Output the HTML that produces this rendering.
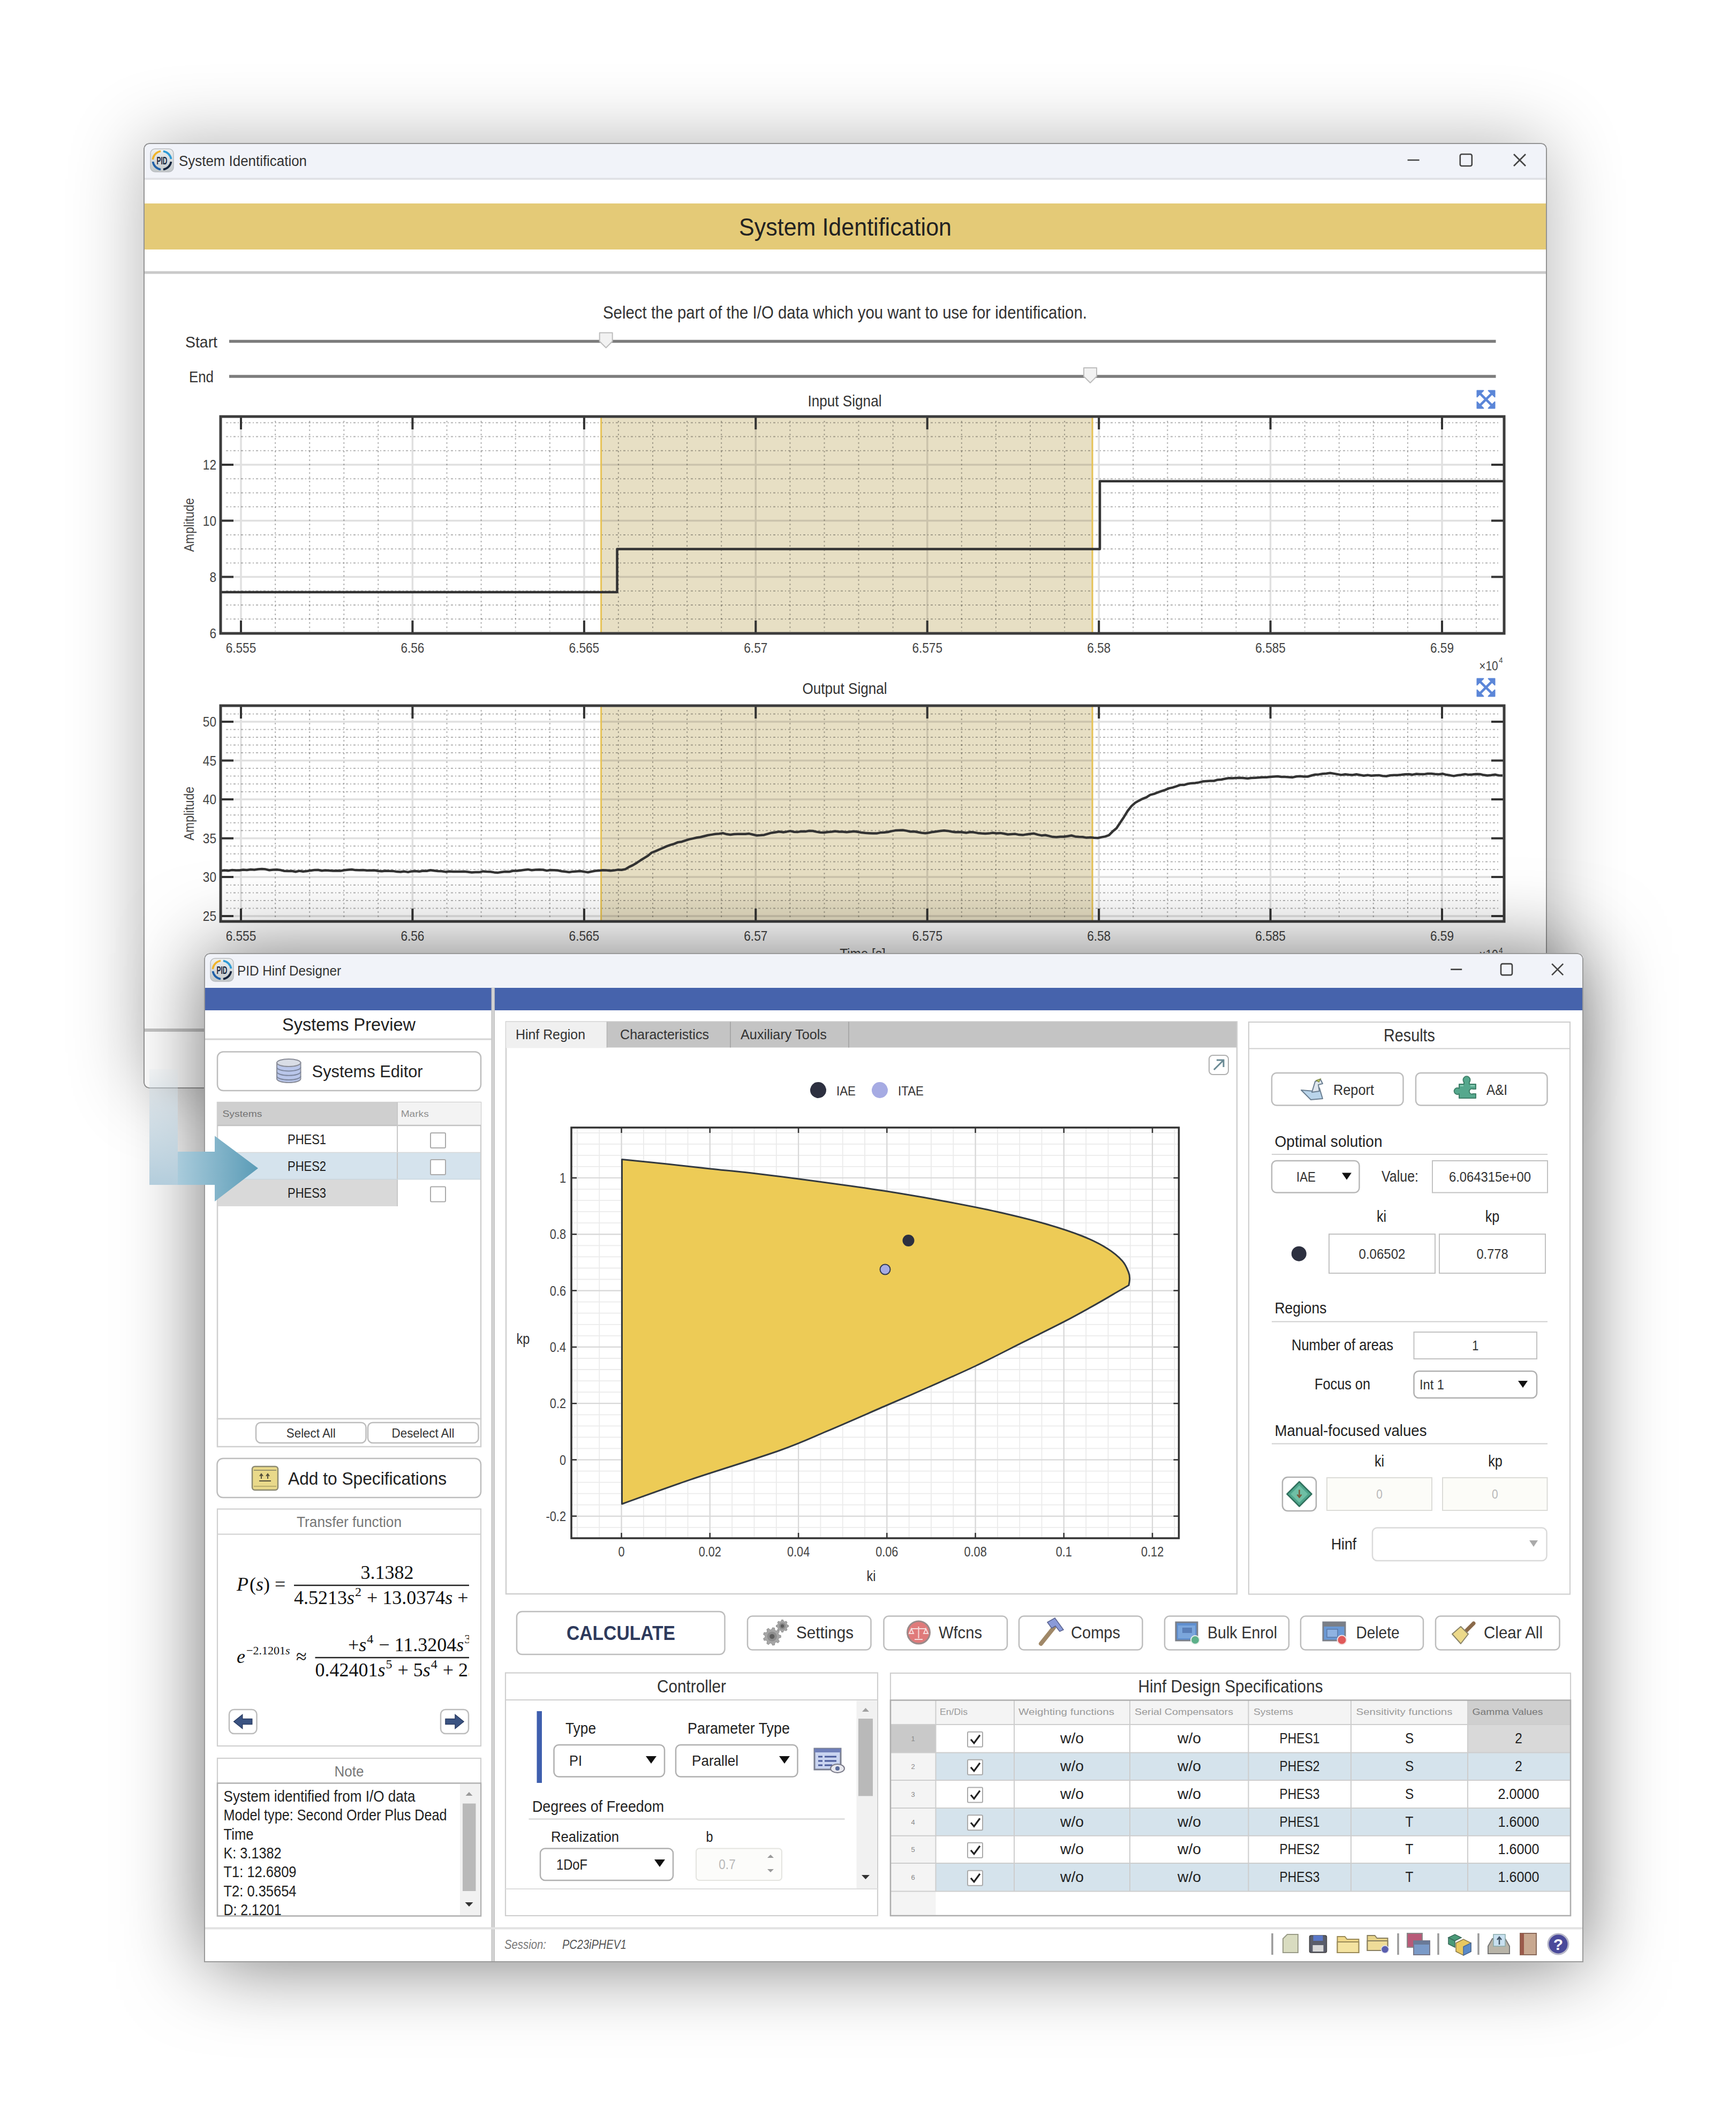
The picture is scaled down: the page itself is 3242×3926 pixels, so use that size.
<!DOCTYPE html><html><head><meta charset="utf-8"><title>PID Hinf Designer</title><style>html,body{margin:0;padding:0;background:#fff}
body{width:3242px;height:3926px;position:relative;overflow:hidden}
.win{position:absolute;border-radius:10px;overflow:hidden;background:#fff}
.sh{position:absolute;border-radius:10px}
svg{display:block}
text{white-space:pre}</style></head><body><svg width="0" height="0" style="position:absolute"><defs>
<linearGradient id="gIcon" x1="0" y1="0" x2="0" y2="1"><stop offset="0" stop-color="#eef0f0"/><stop offset="1" stop-color="#c2c7c9"/></linearGradient>
<linearGradient id="gArrV" x1="0" y1="0" x2="0" y2="1"><stop offset="0" stop-color="#cfdde6" stop-opacity="0.15"/><stop offset="0.35" stop-color="#cddbe4" stop-opacity="0.75"/><stop offset="1" stop-color="#b3cddc" stop-opacity="1"/></linearGradient>
<linearGradient id="gArrH" gradientUnits="userSpaceOnUse" x1="332" y1="0" x2="482" y2="0"><stop offset="0" stop-color="#a9cbdb"/><stop offset="1" stop-color="#5b9cb7"/></linearGradient>
<clipPath id="clipNote"><rect x="408" y="3332" width="450" height="245"/></clipPath>
<clipPath id="clipTF"><rect x="408" y="2868" width="468" height="320"/></clipPath>
</defs></svg><div class="sh" style="left:268px;top:267px;width:2621px;height:1766px;box-shadow:0 0 140px rgba(0,0,0,0.30);border-radius:10px"></div><div class="win" style="left:268px;top:267px;width:2621px;height:1766px;border-radius:10px"><svg width="2621" height="1766" viewBox="268 267 2621 1766"><rect x="268.0" y="267.0" width="2621.0" height="1766.0" fill="#fff" /><rect x="268.0" y="267.0" width="2621.0" height="67.0" fill="#f1f3f9" /><line x1="268.0" y1="334.0" x2="2889.0" y2="334.0" stroke="#dfe0e5" stroke-width="3.5" /><rect x="281.0" y="278.0" width="43" height="43" rx="8.6" fill="url(#gIcon)" stroke="#b9bcc0" stroke-width="1.5"/><path d="M285.4 298.0A17.2 17.2 0 0 1 300.1 282.5" fill="none" stroke="#f0b429" stroke-width="3.7"/><path d="M304.9 282.5A17.2 17.2 0 0 1 319.5 297.1" fill="none" stroke="#2f9bd6" stroke-width="3.7"/><path d="M319.5 301.9A17.2 17.2 0 0 1 304.9 316.5" fill="none" stroke="#14243d" stroke-width="3.7"/><path d="M300.1 316.5A17.2 17.2 0 0 1 285.5 301.9" fill="none" stroke="#1f5fa8" stroke-width="3.7"/><text x="302.5" y="306.8" font-size="19.78" fill="#14243d" font-family="'Liberation Sans',sans-serif" text-anchor="middle" font-weight="bold" textLength="19.8" lengthAdjust="spacingAndGlyphs" >PID</text><text x="334.0" y="310.0" font-size="27" fill="#333" font-family="'Liberation Sans',sans-serif" textLength="239.0" lengthAdjust="spacingAndGlyphs" >System Identification</text><line x1="2628.6" y1="299.0" x2="2650.6" y2="299.0" stroke="#444" stroke-width="2.6" /><rect x="2726.8" y="288.0" width="22.0" height="22.0" fill="none" stroke="#444" stroke-width="2.6" rx="3" /><line x1="2827.0" y1="288.0" x2="2849.0" y2="310.0" stroke="#444" stroke-width="2.6" /><line x1="2827.0" y1="310.0" x2="2849.0" y2="288.0" stroke="#444" stroke-width="2.6" /><rect x="268.0" y="380.0" width="2621.0" height="86.0" fill="#e4ca77" /><text x="1578.5" y="440.0" font-size="47" fill="#222" font-family="'Liberation Sans',sans-serif" text-anchor="middle" textLength="397.0" lengthAdjust="spacingAndGlyphs" >System Identification</text><rect x="268.0" y="506.5" width="2621.0" height="5.0" fill="#c9c9c9" /><text x="1578.0" y="594.5" font-size="33.5" fill="#333" font-family="'Liberation Sans',sans-serif" text-anchor="middle" textLength="904.0" lengthAdjust="spacingAndGlyphs" >Select the part of the I/O data which you want to use for identification.</text><text x="346.0" y="649.0" font-size="29" fill="#333" font-family="'Liberation Sans',sans-serif" textLength="60.0" lengthAdjust="spacingAndGlyphs" >Start</text><text x="353.0" y="714.0" font-size="29" fill="#333" font-family="'Liberation Sans',sans-serif" textLength="46.0" lengthAdjust="spacingAndGlyphs" >End</text><line x1="428.0" y1="637.5" x2="2793.5" y2="637.5" stroke="#7c7c7c" stroke-width="5.5" /><path d="M1119.7 621.5h24v16l-12 12l-12 -12z" fill="#f2f2f2" stroke="#bdbdbd" stroke-width="2" stroke-linejoin="round"/><line x1="428.0" y1="703.0" x2="2793.5" y2="703.0" stroke="#7c7c7c" stroke-width="5.5" /><path d="M2024 687.0h24v16l-12 12l-12 -12z" fill="#f2f2f2" stroke="#bdbdbd" stroke-width="2" stroke-linejoin="round"/><rect x="412.0" y="778.0" width="2397.0" height="405.0" fill="#fff" /><rect x="1122.6" y="778.0" width="917.4" height="405.0" fill="#e7dfc4" /><path d="M514.1 786V1179M578.2 786V1179M642.3 786V1179M706.3 786V1179M834.5 786V1179M898.6 786V1179M962.7 786V1179M1026.8 786V1179M1154.9 786V1179M1219.0 786V1179M1283.1 786V1179M1347.2 786V1179M1475.4 786V1179M1539.5 786V1179M1603.5 786V1179M1667.6 786V1179M1795.8 786V1179M1859.9 786V1179M1924.0 786V1179M1988.1 786V1179M2116.2 786V1179M2180.3 786V1179M2244.4 786V1179M2308.5 786V1179M2436.7 786V1179M2500.8 786V1179M2564.8 786V1179M2628.9 786V1179M2757.1 786V1179" fill="none" stroke="#000" stroke-width="2" stroke-dasharray="3 5" stroke-opacity="0.3"/><path d="M422 789.4H2801M422 815.6H2801M422 841.8H2801M422 894.2H2801M422 920.4H2801M422 946.6H2801M422 999.0H2801M422 1025.2H2801M422 1051.4H2801M422 1103.8H2801M422 1130.0H2801M422 1156.2H2801" fill="none" stroke="#000" stroke-width="2" stroke-dasharray="4 4 2 4" stroke-opacity="0.3"/><path d="M450.0 778V1183M770.4 778V1183M1090.9 778V1183M1411.3 778V1183M1731.7 778V1183M2052.2 778V1183M2372.6 778V1183M2693.0 778V1183M412 868.0H2809M412 972.5H2809M412 1077.5H2809" fill="none" stroke="#000" stroke-width="3.5" stroke-opacity="0.12"/><line x1="1122.6" y1="778.0" x2="1122.6" y2="1183.0" stroke="#e6c256" stroke-width="3" /><line x1="2040.0" y1="778.0" x2="2040.0" y2="1183.0" stroke="#e6c256" stroke-width="3" /><path d="M412 1106H1152.5V1025.5H2054V898.7H2809" fill="none" stroke="#333" stroke-width="4.5" stroke-linejoin="round"/><path d="M450.0 778v24M450.0 1183v-24M770.4 778v24M770.4 1183v-24M1090.9 778v24M1090.9 1183v-24M1411.3 778v24M1411.3 1183v-24M1731.7 778v24M1731.7 1183v-24M2052.2 778v24M2052.2 1183v-24M2372.6 778v24M2372.6 1183v-24M2693.0 778v24M2693.0 1183v-24M412 868.0h24M2809 868.0h-24M412 972.5h24M2809 972.5h-24M412 1077.5h24M2809 1077.5h-24" fill="none" stroke="#333" stroke-width="4" /><rect x="412.0" y="778.0" width="2397.0" height="405.0" fill="none" stroke="#3c3c3c" stroke-width="5" /><text x="404.0" y="877.0" font-size="26" fill="#444" font-family="'Liberation Sans',sans-serif" text-anchor="end" textLength="25.2" lengthAdjust="spacingAndGlyphs" >12</text><text x="404.0" y="981.5" font-size="26" fill="#444" font-family="'Liberation Sans',sans-serif" text-anchor="end" textLength="25.2" lengthAdjust="spacingAndGlyphs" >10</text><text transform="translate(404.0 1086.5) scale(0.870 1)" font-size="26" fill="#444" font-family="'Liberation Sans',sans-serif" text-anchor="end" >8</text><text x="450.0" y="1219.0" font-size="26" fill="#444" font-family="'Liberation Sans',sans-serif" text-anchor="middle" textLength="56.6" lengthAdjust="spacingAndGlyphs" >6.555</text><text x="770.4" y="1219.0" font-size="26" fill="#444" font-family="'Liberation Sans',sans-serif" text-anchor="middle" textLength="44.0" lengthAdjust="spacingAndGlyphs" >6.56</text><text x="1090.9" y="1219.0" font-size="26" fill="#444" font-family="'Liberation Sans',sans-serif" text-anchor="middle" textLength="56.6" lengthAdjust="spacingAndGlyphs" >6.565</text><text x="1411.3" y="1219.0" font-size="26" fill="#444" font-family="'Liberation Sans',sans-serif" text-anchor="middle" textLength="44.0" lengthAdjust="spacingAndGlyphs" >6.57</text><text x="1731.7" y="1219.0" font-size="26" fill="#444" font-family="'Liberation Sans',sans-serif" text-anchor="middle" textLength="56.6" lengthAdjust="spacingAndGlyphs" >6.575</text><text x="2052.2" y="1219.0" font-size="26" fill="#444" font-family="'Liberation Sans',sans-serif" text-anchor="middle" textLength="44.0" lengthAdjust="spacingAndGlyphs" >6.58</text><text x="2372.6" y="1219.0" font-size="26" fill="#444" font-family="'Liberation Sans',sans-serif" text-anchor="middle" textLength="56.6" lengthAdjust="spacingAndGlyphs" >6.585</text><text x="2693.0" y="1219.0" font-size="26" fill="#444" font-family="'Liberation Sans',sans-serif" text-anchor="middle" textLength="44.0" lengthAdjust="spacingAndGlyphs" >6.59</text><text x="1577.5" y="759.0" font-size="30" fill="#333" font-family="'Liberation Sans',sans-serif" text-anchor="middle" textLength="137.9" lengthAdjust="spacingAndGlyphs" >Input Signal</text><g transform="translate(362 980.5) rotate(-90)"><text x="0.0" y="0.0" font-size="26" fill="#444" font-family="'Liberation Sans',sans-serif" text-anchor="middle" textLength="100.6" lengthAdjust="spacingAndGlyphs" >Amplitude</text></g><text transform="translate(404.0 1192.0) scale(0.870 1)" font-size="26" fill="#444" font-family="'Liberation Sans',sans-serif" text-anchor="end" >6</text><text x="2780.0" y="1252.0" font-size="24" fill="#444" font-family="'Liberation Sans',sans-serif" text-anchor="middle" textLength="35.4" lengthAdjust="spacingAndGlyphs" >×10</text><text transform="translate(2803.0 1238.0) scale(0.870 1)" font-size="15" fill="#444" font-family="'Liberation Sans',sans-serif" text-anchor="middle" >4</text><path d="M2758.5 729.5h11.9l-11.9 11.9zM2791.5 729.5h-11.9l11.9 11.9zM2758.5 762.5h11.9l-11.9 -11.9zM2791.5 762.5h-11.9l11.9 -11.9z" fill="#5b86d8" /><line x1="2762.6" y1="733.6" x2="2787.4" y2="758.4" stroke="#5b86d8" stroke-width="4.5" /><line x1="2762.6" y1="758.4" x2="2787.4" y2="733.6" stroke="#5b86d8" stroke-width="4.5" /><path d="M2758.5 729.5h11.9l-11.9 11.9zM2791.5 729.5h-11.9l11.9 11.9zM2758.5 762.5h11.9l-11.9 -11.9zM2791.5 762.5h-11.9l11.9 -11.9z" fill="#5b86d8" stroke="#5b86d8" stroke-width="2" stroke-linejoin="round"/><rect x="412.0" y="1318.0" width="2397.0" height="403.0" fill="#fff" /><rect x="1122.6" y="1318.0" width="917.4" height="403.0" fill="#e7dfc4" /><path d="M514.1 1326V1717M578.2 1326V1717M642.3 1326V1717M706.3 1326V1717M834.5 1326V1717M898.6 1326V1717M962.7 1326V1717M1026.8 1326V1717M1154.9 1326V1717M1219.0 1326V1717M1283.1 1326V1717M1347.2 1326V1717M1475.4 1326V1717M1539.5 1326V1717M1603.5 1326V1717M1667.6 1326V1717M1795.8 1326V1717M1859.9 1326V1717M1924.0 1326V1717M1988.1 1326V1717M2116.2 1326V1717M2180.3 1326V1717M2244.4 1326V1717M2308.5 1326V1717M2436.7 1326V1717M2500.8 1326V1717M2564.8 1326V1717M2628.9 1326V1717M2757.1 1326V1717" fill="none" stroke="#000" stroke-width="2" stroke-dasharray="3 5" stroke-opacity="0.3"/><path d="M422 1333.5H2801M422 1362.5H2801M422 1377.0H2801M422 1391.6H2801M422 1406.1H2801M422 1435.1H2801M422 1449.6H2801M422 1464.2H2801M422 1478.7H2801M422 1507.7H2801M422 1522.2H2801M422 1536.8H2801M422 1551.3H2801M422 1580.3H2801M422 1594.8H2801M422 1609.4H2801M422 1623.9H2801M422 1652.9H2801M422 1667.4H2801M422 1682.0H2801M422 1696.5H2801" fill="none" stroke="#000" stroke-width="2" stroke-dasharray="4 4 2 4" stroke-opacity="0.3"/><path d="M450.0 1318V1721M770.4 1318V1721M1090.9 1318V1721M1411.3 1318V1721M1731.7 1318V1721M2052.2 1318V1721M2372.6 1318V1721M2693.0 1318V1721M412 1348.0H2809M412 1420.5H2809M412 1493.0H2809M412 1565.7H2809M412 1638.0H2809M412 1711.0H2809" fill="none" stroke="#000" stroke-width="3.5" stroke-opacity="0.12"/><line x1="1122.6" y1="1318.0" x2="1122.6" y2="1721.0" stroke="#e6c256" stroke-width="3" /><line x1="2040.0" y1="1318.0" x2="2040.0" y2="1721.0" stroke="#e6c256" stroke-width="3" /><path d="M412 1626.5L419 1625.5L426 1626.3L433 1625.1L440 1625.6L447 1625.5L454 1624.5L461 1625.0L468 1624.0L475 1624.4L482 1623.6L489 1623.1L496 1623.6L503 1625.3L510 1624.5L517 1624.2L524 1625.1L531 1626.8L538 1627.1L545 1626.8L552 1628.2L559 1626.6L566 1627.8L573 1627.0L580 1625.9L587 1625.0L594 1624.8L601 1626.2L608 1625.4L615 1626.0L622 1626.6L629 1626.3L636 1626.6L643 1625.3L650 1624.4L657 1624.0L664 1625.1L671 1625.3L678 1625.1L685 1625.7L692 1625.8L699 1625.5L706 1626.7L713 1627.3L720 1626.5L727 1626.8L734 1626.9L741 1628.1L748 1628.5L755 1627.6L762 1628.9L769 1627.4L776 1627.1L783 1627.8L790 1626.6L797 1626.7L804 1625.3L811 1626.2L818 1627.1L825 1627.3L832 1628.4L839 1627.6L846 1628.0L853 1628.1L860 1628.1L867 1627.8L874 1628.6L881 1629.6L888 1629.0L895 1629.1L902 1627.4L909 1627.9L916 1628.2L923 1629.4L930 1629.9L937 1628.7L944 1628.0L951 1628.3L958 1626.6L965 1626.6L972 1625.7L979 1624.8L986 1623.9L993 1625.3L1000 1624.5L1007 1624.3L1014 1624.5L1021 1626.1L1028 1625.0L1035 1625.3L1042 1625.8L1049 1627.2L1056 1628.1L1063 1629.0L1070 1627.9L1077 1627.5L1084 1627.0L1091 1628.1L1098 1629.3L1105 1627.8L1112 1626.6L1119 1625.9L1126 1625.3L1133 1625.6L1140 1626.2L1147 1625.6L1154 1624.4L1161 1624.7L1168 1623.4L1175 1619.1L1182 1615.9L1189 1611.7L1196 1607.0L1203 1602.7L1210 1598.4L1217 1592.5L1224 1589.9L1231 1586.7L1238 1583.7L1245 1580.6L1252 1578.2L1259 1576.1L1266 1573.2L1273 1572.2L1280 1569.8L1287 1567.6L1294 1566.1L1301 1564.5L1308 1563.5L1315 1561.7L1322 1560.0L1329 1558.9L1336 1557.7L1343 1557.3L1350 1556.1L1357 1558.1L1364 1558.9L1371 1558.1L1378 1557.8L1385 1557.8L1392 1557.8L1399 1557.1L1406 1558.7L1413 1560.4L1420 1560.1L1427 1559.4L1434 1557.3L1441 1555.4L1448 1554.5L1455 1553.3L1462 1554.4L1469 1553.4L1476 1552.1L1483 1553.8L1490 1553.9L1497 1552.8L1504 1553.1L1511 1551.7L1518 1552.0L1525 1553.6L1532 1554.7L1539 1555.0L1546 1554.0L1553 1553.5L1560 1552.5L1567 1553.5L1574 1553.5L1581 1554.3L1588 1553.6L1595 1552.7L1602 1553.8L1609 1555.1L1616 1555.8L1623 1556.2L1630 1556.6L1637 1556.6L1644 1555.1L1651 1554.7L1658 1554.0L1665 1552.4L1672 1551.1L1679 1550.8L1686 1550.5L1693 1551.6L1700 1553.2L1707 1553.0L1714 1554.3L1721 1555.5L1728 1556.3L1735 1555.2L1742 1553.9L1749 1552.9L1756 1551.9L1763 1551.2L1770 1551.9L1777 1553.3L1784 1554.3L1791 1554.1L1798 1554.6L1805 1555.4L1812 1554.0L1819 1554.6L1826 1555.9L1833 1556.6L1840 1557.0L1847 1556.6L1854 1555.5L1861 1556.4L1868 1555.9L1875 1557.0L1882 1558.5L1889 1558.0L1896 1557.6L1903 1559.1L1910 1559.6L1917 1558.4L1924 1557.4L1931 1556.8L1938 1558.9L1945 1560.4L1952 1559.7L1959 1561.4L1966 1563.1L1973 1563.4L1980 1562.7L1987 1562.8L1994 1561.7L2001 1560.5L2008 1562.4L2015 1563.0L2022 1563.2L2029 1564.6L2036 1564.1L2043 1564.8L2050 1565.2L2057 1563.6L2064 1562.4L2071 1559.8L2078 1552.8L2085 1547.0L2092 1536.4L2099 1525.9L2106 1514.5L2113 1505.6L2120 1499.4L2127 1495.4L2134 1491.8L2141 1489.1L2148 1484.6L2155 1482.9L2162 1480.2L2169 1477.6L2176 1475.4L2183 1472.4L2190 1470.9L2197 1468.7L2204 1466.1L2211 1466.1L2218 1464.0L2225 1462.9L2232 1462.5L2239 1461.4L2246 1459.6L2253 1458.9L2260 1458.4L2267 1458.5L2274 1456.4L2281 1456.0L2288 1454.5L2295 1453.3L2302 1453.6L2309 1452.9L2316 1452.7L2323 1453.2L2330 1453.9L2337 1453.1L2344 1452.8L2351 1452.2L2358 1451.7L2365 1451.7L2372 1451.0L2379 1450.6L2386 1450.1L2393 1451.0L2400 1451.0L2407 1451.4L2414 1451.9L2421 1450.2L2428 1449.7L2435 1450.4L2442 1450.5L2449 1448.5L2456 1446.8L2463 1446.4L2470 1445.2L2477 1444.7L2484 1443.8L2491 1444.9L2498 1446.1L2505 1447.4L2512 1446.3L2519 1447.0L2526 1447.5L2533 1446.3L2540 1447.5L2547 1448.8L2554 1447.6L2561 1448.8L2568 1448.2L2575 1447.9L2582 1449.2L2589 1449.8L2596 1448.2L2603 1447.8L2610 1447.7L2617 1447.1L2624 1446.2L2631 1445.9L2638 1446.9L2645 1445.5L2652 1446.0L2659 1446.1L2666 1445.0L2673 1445.0L2680 1445.8L2687 1446.2L2694 1445.2L2701 1447.1L2708 1448.1L2715 1449.4L2722 1447.9L2729 1447.2L2736 1445.9L2743 1447.1L2750 1446.6L2757 1445.7L2764 1445.9L2771 1447.6L2778 1448.6L2785 1447.8L2792 1446.8L2799 1448.3L2806 1448.5" fill="none" stroke="#333" stroke-width="4.5" stroke-linejoin="round"/><path d="M450.0 1318v24M450.0 1721v-24M770.4 1318v24M770.4 1721v-24M1090.9 1318v24M1090.9 1721v-24M1411.3 1318v24M1411.3 1721v-24M1731.7 1318v24M1731.7 1721v-24M2052.2 1318v24M2052.2 1721v-24M2372.6 1318v24M2372.6 1721v-24M2693.0 1318v24M2693.0 1721v-24M412 1348.0h24M2809 1348.0h-24M412 1420.5h24M2809 1420.5h-24M412 1493.0h24M2809 1493.0h-24M412 1565.7h24M2809 1565.7h-24M412 1638.0h24M2809 1638.0h-24M412 1711.0h24M2809 1711.0h-24" fill="none" stroke="#333" stroke-width="4" /><rect x="412.0" y="1318.0" width="2397.0" height="403.0" fill="none" stroke="#3c3c3c" stroke-width="5" /><text x="404.0" y="1357.0" font-size="26" fill="#444" font-family="'Liberation Sans',sans-serif" text-anchor="end" textLength="25.2" lengthAdjust="spacingAndGlyphs" >50</text><text x="404.0" y="1429.5" font-size="26" fill="#444" font-family="'Liberation Sans',sans-serif" text-anchor="end" textLength="25.2" lengthAdjust="spacingAndGlyphs" >45</text><text x="404.0" y="1502.0" font-size="26" fill="#444" font-family="'Liberation Sans',sans-serif" text-anchor="end" textLength="25.2" lengthAdjust="spacingAndGlyphs" >40</text><text x="404.0" y="1574.7" font-size="26" fill="#444" font-family="'Liberation Sans',sans-serif" text-anchor="end" textLength="25.2" lengthAdjust="spacingAndGlyphs" >35</text><text x="404.0" y="1647.0" font-size="26" fill="#444" font-family="'Liberation Sans',sans-serif" text-anchor="end" textLength="25.2" lengthAdjust="spacingAndGlyphs" >30</text><text x="404.0" y="1720.0" font-size="26" fill="#444" font-family="'Liberation Sans',sans-serif" text-anchor="end" textLength="25.2" lengthAdjust="spacingAndGlyphs" >25</text><text x="450.0" y="1757.0" font-size="26" fill="#444" font-family="'Liberation Sans',sans-serif" text-anchor="middle" textLength="56.6" lengthAdjust="spacingAndGlyphs" >6.555</text><text x="770.4" y="1757.0" font-size="26" fill="#444" font-family="'Liberation Sans',sans-serif" text-anchor="middle" textLength="44.0" lengthAdjust="spacingAndGlyphs" >6.56</text><text x="1090.9" y="1757.0" font-size="26" fill="#444" font-family="'Liberation Sans',sans-serif" text-anchor="middle" textLength="56.6" lengthAdjust="spacingAndGlyphs" >6.565</text><text x="1411.3" y="1757.0" font-size="26" fill="#444" font-family="'Liberation Sans',sans-serif" text-anchor="middle" textLength="44.0" lengthAdjust="spacingAndGlyphs" >6.57</text><text x="1731.7" y="1757.0" font-size="26" fill="#444" font-family="'Liberation Sans',sans-serif" text-anchor="middle" textLength="56.6" lengthAdjust="spacingAndGlyphs" >6.575</text><text x="2052.2" y="1757.0" font-size="26" fill="#444" font-family="'Liberation Sans',sans-serif" text-anchor="middle" textLength="44.0" lengthAdjust="spacingAndGlyphs" >6.58</text><text x="2372.6" y="1757.0" font-size="26" fill="#444" font-family="'Liberation Sans',sans-serif" text-anchor="middle" textLength="56.6" lengthAdjust="spacingAndGlyphs" >6.585</text><text x="2693.0" y="1757.0" font-size="26" fill="#444" font-family="'Liberation Sans',sans-serif" text-anchor="middle" textLength="44.0" lengthAdjust="spacingAndGlyphs" >6.59</text><text x="1577.5" y="1296.0" font-size="30" fill="#333" font-family="'Liberation Sans',sans-serif" text-anchor="middle" textLength="158.2" lengthAdjust="spacingAndGlyphs" >Output Signal</text><g transform="translate(362 1519.5) rotate(-90)"><text x="0.0" y="0.0" font-size="26" fill="#444" font-family="'Liberation Sans',sans-serif" text-anchor="middle" textLength="100.6" lengthAdjust="spacingAndGlyphs" >Amplitude</text></g><path d="M2758.5 1267.5h11.9l-11.9 11.9zM2791.5 1267.5h-11.9l11.9 11.9zM2758.5 1300.5h11.9l-11.9 -11.9zM2791.5 1300.5h-11.9l11.9 -11.9z" fill="#5b86d8" /><line x1="2762.6" y1="1271.6" x2="2787.4" y2="1296.4" stroke="#5b86d8" stroke-width="4.5" /><line x1="2762.6" y1="1296.4" x2="2787.4" y2="1271.6" stroke="#5b86d8" stroke-width="4.5" /><path d="M2758.5 1267.5h11.9l-11.9 11.9zM2791.5 1267.5h-11.9l11.9 11.9zM2758.5 1300.5h11.9l-11.9 -11.9zM2791.5 1300.5h-11.9l11.9 -11.9z" fill="#5b86d8" stroke="#5b86d8" stroke-width="2" stroke-linejoin="round"/><text x="1611.0" y="1791.0" font-size="28" fill="#444" font-family="'Liberation Sans',sans-serif" text-anchor="middle" textLength="85.7" lengthAdjust="spacingAndGlyphs" >Time [s]</text><text x="2780.0" y="1791.0" font-size="24" fill="#444" font-family="'Liberation Sans',sans-serif" text-anchor="middle" textLength="35.4" lengthAdjust="spacingAndGlyphs" >×10</text><text transform="translate(2803.0 1780.0) scale(0.870 1)" font-size="15" fill="#444" font-family="'Liberation Sans',sans-serif" text-anchor="middle" >4</text><rect x="268.0" y="1921.0" width="2621.0" height="6.0" fill="#c4c4c4" /><rect x="269.0" y="268.0" width="2619.0" height="1764.0" fill="none" stroke="#949494" stroke-width="2" rx="10" /></svg></div><div class="sh" style="left:381px;top:1780px;width:2576px;height:1885px;box-shadow:0 0 150px rgba(0,0,0,0.55);border-radius:10px 10px 0 0"></div><div class="win" style="left:381px;top:1780px;width:2576px;height:1885px;border-radius:10px 10px 0 0"><svg width="2576" height="1885" viewBox="381 1780 2576 1885"><rect x="381.0" y="1780.0" width="2576.0" height="1885.0" fill="#fff" /><rect x="381.0" y="1780.0" width="2576.0" height="64.5" fill="#f1f3f9" /><rect x="393.0" y="1790.0" width="43" height="43" rx="8.6" fill="url(#gIcon)" stroke="#b9bcc0" stroke-width="1.5"/><path d="M397.4 1810.0A17.2 17.2 0 0 1 412.1 1794.5" fill="none" stroke="#f0b429" stroke-width="3.7"/><path d="M416.9 1794.5A17.2 17.2 0 0 1 431.5 1809.1" fill="none" stroke="#2f9bd6" stroke-width="3.7"/><path d="M431.5 1813.9A17.2 17.2 0 0 1 416.9 1828.5" fill="none" stroke="#14243d" stroke-width="3.7"/><path d="M412.1 1828.5A17.2 17.2 0 0 1 397.5 1813.9" fill="none" stroke="#1f5fa8" stroke-width="3.7"/><text x="414.5" y="1818.8" font-size="19.78" fill="#14243d" font-family="'Liberation Sans',sans-serif" text-anchor="middle" font-weight="bold" textLength="19.8" lengthAdjust="spacingAndGlyphs" >PID</text><text x="443.0" y="1822.0" font-size="26" fill="#333" font-family="'Liberation Sans',sans-serif" textLength="194.0" lengthAdjust="spacingAndGlyphs" >PID Hinf Designer</text><line x1="2709.2" y1="1810.6" x2="2730.2" y2="1810.6" stroke="#444" stroke-width="2.6" /><rect x="2803.0" y="1800.1" width="21.0" height="21.0" fill="none" stroke="#444" stroke-width="2.6" rx="3" /><line x1="2898.2" y1="1800.1" x2="2919.2" y2="1821.1" stroke="#444" stroke-width="2.6" /><line x1="2898.2" y1="1821.1" x2="2919.2" y2="1800.1" stroke="#444" stroke-width="2.6" /><rect x="381.0" y="1845.0" width="2576.0" height="42.0" fill="#4663ac" /><rect x="917.5" y="1844.5" width="6.5" height="1820.5" fill="#c4c4c4" /><line x1="920.7" y1="1844.5" x2="920.7" y2="3665.0" stroke="#e4e4e4" stroke-width="1.5" /><text x="651.5" y="1925.0" font-size="34" fill="#222" font-family="'Liberation Sans',sans-serif" text-anchor="middle" textLength="249.0" lengthAdjust="spacingAndGlyphs" >Systems Preview</text><line x1="381.0" y1="1941.0" x2="918.0" y2="1941.0" stroke="#d4d4d4" stroke-width="3" /><rect x="406.0" y="1964.5" width="492.0" height="72.5" fill="#fff" stroke="#bdbdbd" stroke-width="2.5" rx="11" /><path d="M517 1985.04v29.92a22.25 7.04 0 0 0 44.5 0v-29.92z" fill="#b9c6ea" stroke="#8b8e99" stroke-width="2" /><path d="M517 1993.4a22.25 7.04 0 0 0 44.5 0" fill="none" stroke="#7d879f" stroke-width="2" /><path d="M517 2001.7a22.25 7.04 0 0 0 44.5 0" fill="none" stroke="#7d879f" stroke-width="2" /><path d="M517 2010.0a22.25 7.04 0 0 0 44.5 0" fill="none" stroke="#7d879f" stroke-width="2" /><ellipse cx="539.25" cy="1985.04" rx="22.25" ry="7.04" fill="#d9dde6" stroke="#8b8e99" stroke-width="2"/><text x="582.6" y="2012.0" font-size="32" fill="#222" font-family="'Liberation Sans',sans-serif" textLength="207.0" lengthAdjust="spacingAndGlyphs" >Systems Editor</text><rect x="406.0" y="2059.0" width="492.0" height="591.0" fill="#fff" stroke="#cfcfcf" stroke-width="2.5" /><rect x="406.0" y="2059.0" width="336.0" height="43.0" fill="#cfcfcf" /><rect x="742.0" y="2059.0" width="156.0" height="43.0" fill="#f3f3f3" /><line x1="406.0" y1="2102.0" x2="898.0" y2="2102.0" stroke="#c2c2c2" stroke-width="2.5" /><text x="415.5" y="2086.0" font-size="16.5" fill="#747474" font-family="'Liberation Sans',sans-serif" textLength="74.0" lengthAdjust="spacingAndGlyphs" >Systems</text><text x="748.7" y="2086.0" font-size="16.5" fill="#8e8e8e" font-family="'Liberation Sans',sans-serif" textLength="52.0" lengthAdjust="spacingAndGlyphs" >Marks</text><rect x="407.0" y="2152.5" width="490.0" height="50.0" fill="#d5e3ed" /><rect x="407.0" y="2202.5" width="335.0" height="50.5" fill="#d9d9d9" /><line x1="742.0" y1="2059.0" x2="742.0" y2="2253.0" stroke="#c8c8c8" stroke-width="2" /><text x="573.0" y="2136.5" font-size="26" fill="#222" font-family="'Liberation Sans',sans-serif" text-anchor="middle" textLength="72.0" lengthAdjust="spacingAndGlyphs" >PHES1</text><rect x="804.0" y="2116.0" width="28.0" height="28.0" fill="#fff" stroke="#ababab" stroke-width="2" rx="2" /><text x="573.0" y="2186.5" font-size="26" fill="#222" font-family="'Liberation Sans',sans-serif" text-anchor="middle" textLength="72.0" lengthAdjust="spacingAndGlyphs" >PHES2</text><rect x="804.0" y="2166.0" width="28.0" height="28.0" fill="#fff" stroke="#ababab" stroke-width="2" rx="2" /><text x="573.0" y="2237.0" font-size="26" fill="#222" font-family="'Liberation Sans',sans-serif" text-anchor="middle" textLength="72.0" lengthAdjust="spacingAndGlyphs" >PHES3</text><rect x="804.0" y="2216.5" width="28.0" height="28.0" fill="#fff" stroke="#ababab" stroke-width="2" rx="2" /><line x1="407.0" y1="2152.5" x2="897.0" y2="2152.5" stroke="#d8d8d8" stroke-width="1.5" /><line x1="407.0" y1="2202.5" x2="897.0" y2="2202.5" stroke="#c9d6df" stroke-width="1.5" /><rect x="406.0" y="2650.0" width="492.0" height="52.0" fill="#fff" stroke="#cfcfcf" stroke-width="2.5" /><rect x="478.0" y="2657.0" width="205.5" height="38.0" fill="#fff" stroke="#bdbdbd" stroke-width="2.5" rx="9" /><rect x="687.0" y="2657.0" width="206.5" height="38.0" fill="#fff" stroke="#bdbdbd" stroke-width="2.5" rx="9" /><text x="580.8" y="2685.0" font-size="24" fill="#333" font-family="'Liberation Sans',sans-serif" text-anchor="middle" textLength="92.0" lengthAdjust="spacingAndGlyphs" >Select All</text><text x="790.0" y="2685.0" font-size="24" fill="#333" font-family="'Liberation Sans',sans-serif" text-anchor="middle" textLength="117.0" lengthAdjust="spacingAndGlyphs" >Deselect All</text><rect x="405.5" y="2724.0" width="492.5" height="73.0" fill="#fff" stroke="#bdbdbd" stroke-width="2.5" rx="11" /><rect x="471.0" y="2739.0" width="48.0" height="44.0" fill="#e9d98a" stroke="#8d8a72" stroke-width="2.5" rx="5" /><line x1="474.0" y1="2746.0" x2="516.0" y2="2746.0" stroke="#9a946c" stroke-width="2" /><line x1="474.0" y1="2776.0" x2="516.0" y2="2776.0" stroke="#b9ad6c" stroke-width="2" /><path d="M488.0 2762.0v-9m-3 4l3 -4l3 4M500.0 2762.0v-9m-3 4l3 -4l3 4M484.0 2766.0h22" fill="none" stroke="#55503a" stroke-width="2" /><text x="538.0" y="2773.0" font-size="33" fill="#222" font-family="'Liberation Sans',sans-serif" textLength="296.0" lengthAdjust="spacingAndGlyphs" >Add to Specifications</text><rect x="406.0" y="2818.5" width="492.0" height="442.5" fill="#fff" stroke="#cfcfcf" stroke-width="2.2" /><line x1="406.0" y1="2865.5" x2="898.0" y2="2865.5" stroke="#cfcfcf" stroke-width="2.2" /><text x="652.0" y="2852.0" font-size="27" fill="#777" font-family="'Liberation Sans',sans-serif" text-anchor="middle" textLength="196.0" lengthAdjust="spacingAndGlyphs" >Transfer function</text><g clip-path="url(#clipTF)"><text x="442.0" y="2971.0" font-size="36" fill="#111" font-family="'Liberation Serif',serif" font-style="italic" >P</text><text x="466.0" y="2971.0" font-size="36" fill="#111" font-family="'Liberation Serif',serif" >(</text><text x="478.0" y="2971.0" font-size="36" fill="#111" font-family="'Liberation Serif',serif" font-style="italic" >s</text><text x="492.0" y="2971.0" font-size="36" fill="#111" font-family="'Liberation Serif',serif" >)</text><text x="513.0" y="2971.0" font-size="36" fill="#111" font-family="'Liberation Serif',serif" >=</text><line x1="549.0" y1="2961.0" x2="876.0" y2="2961.0" stroke="#222" stroke-width="2.5" /><text x="723.0" y="2949.0" font-size="36" fill="#111" font-family="'Liberation Serif',serif" text-anchor="middle" >3.1382</text><text x="549.0" y="2996.0" font-size="36" fill="#111" font-family="'Liberation Serif',serif" >4.5213</text><text x="648.0" y="2996.0" font-size="36" fill="#111" font-family="'Liberation Serif',serif" font-style="italic" >s</text><text x="663.0" y="2981.0" font-size="24" fill="#111" font-family="'Liberation Serif',serif" >2</text><text x="685.0" y="2996.0" font-size="36" fill="#111" font-family="'Liberation Serif',serif" >+</text><text x="714.3" y="2996.0" font-size="36" fill="#111" font-family="'Liberation Serif',serif" >13.0374</text><text x="831.3" y="2996.0" font-size="36" fill="#111" font-family="'Liberation Serif',serif" font-style="italic" >s</text><text x="854.3" y="2996.0" font-size="36" fill="#111" font-family="'Liberation Serif',serif" >+</text><text x="883.6" y="2996.0" font-size="36" fill="#111" font-family="'Liberation Serif',serif" >1</text><text x="442.0" y="3106.0" font-size="36" fill="#111" font-family="'Liberation Serif',serif" font-style="italic" >e</text><text x="460.0" y="3090.0" font-size="22" fill="#111" font-family="'Liberation Serif',serif" >−2.1201</text><text x="532.9" y="3090.0" font-size="22" fill="#111" font-family="'Liberation Serif',serif" font-style="italic" >s</text><text x="553.0" y="3106.0" font-size="36" fill="#111" font-family="'Liberation Serif',serif" >≈</text><line x1="588.5" y1="3096.0" x2="876.0" y2="3096.0" stroke="#222" stroke-width="2.5" /><text x="650.0" y="3084.0" font-size="36" fill="#111" font-family="'Liberation Serif',serif" >+</text><text x="670.3" y="3084.0" font-size="36" fill="#111" font-family="'Liberation Serif',serif" font-style="italic" >s</text><text x="685.3" y="3069.0" font-size="24" fill="#111" font-family="'Liberation Serif',serif" >4</text><text x="707.3" y="3084.0" font-size="36" fill="#111" font-family="'Liberation Serif',serif" >−</text><text x="736.6" y="3084.0" font-size="36" fill="#111" font-family="'Liberation Serif',serif" >11.3204</text><text x="852.3" y="3084.0" font-size="36" fill="#111" font-family="'Liberation Serif',serif" font-style="italic" >s</text><text x="867.3" y="3069.0" font-size="24" fill="#111" font-family="'Liberation Serif',serif" >3</text><text x="889.3" y="3084.0" font-size="36" fill="#111" font-family="'Liberation Serif',serif" >+</text><text x="588.5" y="3131.0" font-size="36" fill="#111" font-family="'Liberation Serif',serif" >0.42401</text><text x="705.5" y="3131.0" font-size="36" fill="#111" font-family="'Liberation Serif',serif" font-style="italic" >s</text><text x="720.5" y="3116.0" font-size="24" fill="#111" font-family="'Liberation Serif',serif" >5</text><text x="742.5" y="3131.0" font-size="36" fill="#111" font-family="'Liberation Serif',serif" >+</text><text x="771.8" y="3131.0" font-size="36" fill="#111" font-family="'Liberation Serif',serif" >5</text><text x="789.8" y="3131.0" font-size="36" fill="#111" font-family="'Liberation Serif',serif" font-style="italic" >s</text><text x="804.8" y="3116.0" font-size="24" fill="#111" font-family="'Liberation Serif',serif" >4</text><text x="826.8" y="3131.0" font-size="36" fill="#111" font-family="'Liberation Serif',serif" >+</text><text x="856.1" y="3131.0" font-size="36" fill="#111" font-family="'Liberation Serif',serif" >23</text></g><rect x="428.0" y="3193.0" width="51.5" height="45.0" fill="#fff" stroke="#bdbdbd" stroke-width="2.5" rx="9" /><rect x="823.0" y="3193.0" width="52.0" height="45.0" fill="#fff" stroke="#bdbdbd" stroke-width="2.5" rx="9" /><path d="M470.7 3210.5L452.7 3210.5L452.7 3202.5L436.7 3215.5L452.7 3228.5L452.7 3220.5L470.7 3220.5z" fill="#3a5382" stroke="#2b3d63" stroke-width="1.5" /><path d="M832.0 3210.5L850.0 3210.5L850.0 3202.5L866.0 3215.5L850.0 3228.5L850.0 3220.5L832.0 3220.5z" fill="#3a5382" stroke="#2b3d63" stroke-width="1.5" /><rect x="406.0" y="3284.0" width="492.0" height="294.5" fill="#fff" stroke="#cfcfcf" stroke-width="2.2" /><text x="652.0" y="3318.0" font-size="28" fill="#777" font-family="'Liberation Sans',sans-serif" text-anchor="middle" textLength="55.0" lengthAdjust="spacingAndGlyphs" >Note</text><rect x="406.0" y="3330.5" width="492.0" height="248.0" fill="#fff" stroke="#b0b0b0" stroke-width="2.5" /><g clip-path="url(#clipNote)"><text x="417.5" y="3365.0" font-size="30" fill="#222" font-family="'Liberation Sans',sans-serif" textLength="358.0" lengthAdjust="spacingAndGlyphs" >System identified from I/O data</text><text x="417.5" y="3400.3" font-size="30" fill="#222" font-family="'Liberation Sans',sans-serif" textLength="417.0" lengthAdjust="spacingAndGlyphs" >Model type: Second Order Plus Dead</text><text x="417.5" y="3435.6" font-size="30" fill="#222" font-family="'Liberation Sans',sans-serif" textLength="56.0" lengthAdjust="spacingAndGlyphs" >Time</text><text x="417.5" y="3470.9" font-size="30" fill="#222" font-family="'Liberation Sans',sans-serif" textLength="108.0" lengthAdjust="spacingAndGlyphs" >K: 3.1382</text><text x="417.5" y="3506.2" font-size="30" fill="#222" font-family="'Liberation Sans',sans-serif" textLength="136.0" lengthAdjust="spacingAndGlyphs" >T1: 12.6809</text><text x="417.5" y="3541.5" font-size="30" fill="#222" font-family="'Liberation Sans',sans-serif" textLength="136.0" lengthAdjust="spacingAndGlyphs" >T2: 0.35654</text><text x="417.5" y="3576.8" font-size="30" fill="#222" font-family="'Liberation Sans',sans-serif" textLength="108.0" lengthAdjust="spacingAndGlyphs" >D: 2.1201</text></g><rect x="859.0" y="3332.0" width="37.5" height="245.0" fill="#f1f1f1" /><rect x="864.0" y="3368.5" width="24.5" height="163.5" fill="#b9b9b9" /><path d="M869.5 3354l6.5 -7l6.5 7z" fill="#9a9a9a" /><path d="M868.5 3553h15l-7.5 8z" fill="#333" /><rect x="945.0" y="1908.5" width="1365.0" height="1068.5" fill="#fff" stroke="#cfcfcf" stroke-width="2.5" /><rect x="945.0" y="1908.5" width="1364.0" height="48.0" fill="#c4c4c4" /><rect x="945.0" y="1908.5" width="188.5" height="49.0" fill="#f0f0f0" /><line x1="1364.0" y1="1908.5" x2="1364.0" y2="1956.5" stroke="#a8a8a8" stroke-width="2" /><line x1="1585.0" y1="1908.5" x2="1585.0" y2="1956.5" stroke="#a8a8a8" stroke-width="2" /><line x1="1133.5" y1="1908.5" x2="1133.5" y2="1956.5" stroke="#b4b4b4" stroke-width="1.5" /><text x="963.0" y="1941.0" font-size="25.5" fill="#333" font-family="'Liberation Sans',sans-serif" textLength="130.0" lengthAdjust="spacingAndGlyphs" >Hinf Region</text><text x="1158.0" y="1941.0" font-size="25.5" fill="#333" font-family="'Liberation Sans',sans-serif" textLength="166.0" lengthAdjust="spacingAndGlyphs" >Characteristics</text><text x="1383.0" y="1941.0" font-size="25.5" fill="#333" font-family="'Liberation Sans',sans-serif" textLength="161.0" lengthAdjust="spacingAndGlyphs" >Auxiliary Tools</text><rect x="2258.0" y="1971.0" width="36.0" height="36.0" fill="#fff" stroke="#b0b0b0" stroke-width="2" rx="7" /><path d="M2267 1998L2285 1980M2272 1980h13v13" fill="none" stroke="#6a8a94" stroke-width="3" /><circle cx="1528.0" cy="2036.0" r="15" fill="#2d3040" /><text x="1562.0" y="2046.0" font-size="24" fill="#333" font-family="'Liberation Sans',sans-serif" textLength="36.0" lengthAdjust="spacingAndGlyphs" >IAE</text><circle cx="1643.0" cy="2036.0" r="15" fill="#a6abe3" /><text x="1677.0" y="2046.0" font-size="24" fill="#333" font-family="'Liberation Sans',sans-serif" textLength="48.0" lengthAdjust="spacingAndGlyphs" >ITAE</text><rect x="1067.0" y="2106.0" width="1134.5" height="767.0" fill="#fff" /><path d="M1078.0 2106V2873M1119.3 2106V2873M1160.6 2106V2873M1201.9 2106V2873M1243.2 2106V2873M1284.5 2106V2873M1325.8 2106V2873M1367.2 2106V2873M1408.5 2106V2873M1449.8 2106V2873M1491.1 2106V2873M1532.4 2106V2873M1573.7 2106V2873M1615.0 2106V2873M1656.3 2106V2873M1697.7 2106V2873M1739.0 2106V2873M1780.3 2106V2873M1821.6 2106V2873M1862.9 2106V2873M1904.2 2106V2873M1945.5 2106V2873M1986.8 2106V2873M2028.2 2106V2873M2069.5 2106V2873M2110.8 2106V2873M2152.1 2106V2873M2193.4 2106V2873M1067 2852.9H2201.5M1067 2831.8H2201.5M1067 2810.7H2201.5M1067 2789.7H2201.5M1067 2768.6H2201.5M1067 2747.6H2201.5M1067 2726.5H2201.5M1067 2705.4H2201.5M1067 2684.4H2201.5M1067 2663.3H2201.5M1067 2642.3H2201.5M1067 2621.2H2201.5M1067 2600.1H2201.5M1067 2579.1H2201.5M1067 2558.0H2201.5M1067 2537.0H2201.5M1067 2515.9H2201.5M1067 2494.8H2201.5M1067 2473.8H2201.5M1067 2452.7H2201.5M1067 2431.7H2201.5M1067 2410.6H2201.5M1067 2389.5H2201.5M1067 2368.5H2201.5M1067 2347.4H2201.5M1067 2326.4H2201.5M1067 2305.3H2201.5M1067 2284.2H2201.5M1067 2263.2H2201.5M1067 2242.1H2201.5M1067 2221.1H2201.5M1067 2200.0H2201.5M1067 2178.9H2201.5M1067 2157.9H2201.5M1067 2136.8H2201.5M1067 2115.8H2201.5" fill="none" stroke="#ebebeb" stroke-width="1.8" /><path d="M1160.6 2106V2873M1325.8 2106V2873M1491.1 2106V2873M1656.3 2106V2873M1821.6 2106V2873M1986.8 2106V2873M2152.1 2106V2873M1067 2831.8H2201.5M1067 2726.5H2201.5M1067 2621.2H2201.5M1067 2515.9H2201.5M1067 2410.6H2201.5M1067 2305.3H2201.5M1067 2200.0H2201.5" fill="none" stroke="#d8d8d8" stroke-width="2.2" /><path d="M1161.5 2165.6C1176.2 2167.1 1222.6 2171.6 1250.0 2174.5C1277.4 2177.4 1301.0 2180.3 1326.0 2183.0C1351.0 2185.7 1372.3 2187.4 1400.0 2190.6C1427.7 2193.8 1461.3 2198.0 1492.0 2202.0C1522.7 2206.0 1553.5 2210.1 1584.3 2214.5C1615.0 2218.9 1645.8 2223.3 1676.5 2228.3C1707.2 2233.3 1738.0 2238.7 1768.7 2244.5C1799.4 2250.3 1830.1 2256.1 1860.8 2263.0C1891.5 2269.9 1926.1 2278.3 1953.0 2286.0C1979.9 2293.7 2002.8 2301.3 2022.0 2309.0C2041.2 2316.7 2055.7 2324.3 2068.0 2332.0C2080.3 2339.7 2089.3 2347.7 2095.9 2355.0C2102.5 2362.3 2105.1 2370.3 2107.4 2375.8C2109.7 2381.3 2109.6 2383.9 2109.7 2388.0C2109.8 2392.1 2108.3 2398.4 2108.0 2400.5L2108.0 2400.5C2104.8 2402.4 2098.2 2406.1 2088.6 2411.7C2079.0 2417.3 2067.5 2424.4 2050.6 2433.9C2033.7 2443.4 2010.3 2456.6 1987.0 2468.7C1963.7 2480.8 1938.4 2493.0 1911.0 2506.7C1883.6 2520.4 1852.0 2536.9 1822.4 2551.0C1792.9 2565.1 1761.2 2578.8 1733.7 2591.0C1706.2 2603.2 1689.4 2610.3 1657.7 2624.0C1626.0 2637.7 1577.4 2659.2 1543.6 2673.4C1509.8 2687.7 1497.2 2694.5 1454.9 2709.5C1412.6 2724.5 1338.9 2746.8 1290.0 2763.4C1241.1 2780.0 1182.9 2801.4 1161.5 2809.0Z" fill="#edcb56" stroke="#333a40" stroke-width="3" stroke-linejoin="round"/><path d="M1160.6 2106v10M1160.6 2873v-10M1325.8 2106v10M1325.8 2873v-10M1491.1 2106v10M1491.1 2873v-10M1656.3 2106v10M1656.3 2873v-10M1821.6 2106v10M1821.6 2873v-10M1986.8 2106v10M1986.8 2873v-10M2152.1 2106v10M2152.1 2873v-10M1067 2831.8h10M2201.5 2831.8h-10M1067 2726.5h10M2201.5 2726.5h-10M1067 2621.2h10M2201.5 2621.2h-10M1067 2515.9h10M2201.5 2515.9h-10M1067 2410.6h10M2201.5 2410.6h-10M1067 2305.3h10M2201.5 2305.3h-10M1067 2200.0h10M2201.5 2200.0h-10" fill="none" stroke="#333" stroke-width="2.5" /><rect x="1067.0" y="2106.0" width="1134.5" height="767.0" fill="none" stroke="#333" stroke-width="3.5" /><circle cx="1696.5" cy="2317.0" r="11" fill="#2d3040" /><circle cx="1653.0" cy="2371.0" r="9.5" fill="#a6abe3" stroke="#333a50" stroke-width="2" /><text x="1057.0" y="2840.8" font-size="25" fill="#444" font-family="'Liberation Sans',sans-serif" text-anchor="end" textLength="37.5" lengthAdjust="spacingAndGlyphs" >-0.2</text><text transform="translate(1057.0 2735.5) scale(0.870 1)" font-size="25" fill="#444" font-family="'Liberation Sans',sans-serif" text-anchor="end" >0</text><text x="1057.0" y="2630.2" font-size="25" fill="#444" font-family="'Liberation Sans',sans-serif" text-anchor="end" textLength="30.2" lengthAdjust="spacingAndGlyphs" >0.2</text><text x="1057.0" y="2524.9" font-size="25" fill="#444" font-family="'Liberation Sans',sans-serif" text-anchor="end" textLength="30.2" lengthAdjust="spacingAndGlyphs" >0.4</text><text x="1057.0" y="2419.6" font-size="25" fill="#444" font-family="'Liberation Sans',sans-serif" text-anchor="end" textLength="30.2" lengthAdjust="spacingAndGlyphs" >0.6</text><text x="1057.0" y="2314.3" font-size="25" fill="#444" font-family="'Liberation Sans',sans-serif" text-anchor="end" textLength="30.2" lengthAdjust="spacingAndGlyphs" >0.8</text><text transform="translate(1057.0 2209.0) scale(0.870 1)" font-size="25" fill="#444" font-family="'Liberation Sans',sans-serif" text-anchor="end" >1</text><text transform="translate(1160.6 2907.0) scale(0.870 1)" font-size="25" fill="#444" font-family="'Liberation Sans',sans-serif" text-anchor="middle" >0</text><text x="1325.8" y="2907.0" font-size="25" fill="#444" font-family="'Liberation Sans',sans-serif" text-anchor="middle" textLength="42.3" lengthAdjust="spacingAndGlyphs" >0.02</text><text x="1491.1" y="2907.0" font-size="25" fill="#444" font-family="'Liberation Sans',sans-serif" text-anchor="middle" textLength="42.3" lengthAdjust="spacingAndGlyphs" >0.04</text><text x="1656.3" y="2907.0" font-size="25" fill="#444" font-family="'Liberation Sans',sans-serif" text-anchor="middle" textLength="42.3" lengthAdjust="spacingAndGlyphs" >0.06</text><text x="1821.6" y="2907.0" font-size="25" fill="#444" font-family="'Liberation Sans',sans-serif" text-anchor="middle" textLength="42.3" lengthAdjust="spacingAndGlyphs" >0.08</text><text x="1986.8" y="2907.0" font-size="25" fill="#444" font-family="'Liberation Sans',sans-serif" text-anchor="middle" textLength="30.2" lengthAdjust="spacingAndGlyphs" >0.1</text><text x="2152.1" y="2907.0" font-size="25" fill="#444" font-family="'Liberation Sans',sans-serif" text-anchor="middle" textLength="42.3" lengthAdjust="spacingAndGlyphs" >0.12</text><text x="1627.0" y="2953.0" font-size="27" fill="#333" font-family="'Liberation Sans',sans-serif" text-anchor="middle" textLength="17.0" lengthAdjust="spacingAndGlyphs" >ki</text><text x="977.0" y="2510.0" font-size="27" fill="#333" font-family="'Liberation Sans',sans-serif" text-anchor="middle" textLength="24.8" lengthAdjust="spacingAndGlyphs" >kp</text><rect x="2332.0" y="1909.0" width="600.0" height="1068.5" fill="#fff" stroke="#cfcfcf" stroke-width="2.2" /><line x1="2332.0" y1="1958.5" x2="2932.0" y2="1958.5" stroke="#cfcfcf" stroke-width="2.2" /><text x="2632.0" y="1945.0" font-size="34" fill="#333" font-family="'Liberation Sans',sans-serif" text-anchor="middle" textLength="96.0" lengthAdjust="spacingAndGlyphs" >Results</text><rect x="2375.0" y="2004.0" width="245.5" height="60.5" fill="#fff" stroke="#bdbdbd" stroke-width="2.5" rx="9" /><rect x="2644.0" y="2004.0" width="245.5" height="60.5" fill="#fff" stroke="#bdbdbd" stroke-width="2.5" rx="9" /><path d="M2430 2036l18 18l22 -2l-6 -20l-10 6z" fill="#b9d4ea" stroke="#6b7f92" stroke-width="2" stroke-linejoin="round"/><path d="M2450 2040l6 -20l10 -4l4 8l-8 2l2 12z" fill="#dfe6ee" stroke="#6b7f92" stroke-width="2" stroke-linejoin="round"/><path d="M2458 2018l8 -3l-3 6z" fill="#c7d56a" stroke="#7f8a4a" stroke-width="1.5" /><text x="2490.0" y="2045.0" font-size="28" fill="#333" font-family="'Liberation Sans',sans-serif" textLength="76.0" lengthAdjust="spacingAndGlyphs" >Report</text><path d="M2725 2025h9v-4a6.5 6.5 0 1 1 10 0v4h12v9h-5a5 5 0 1 0 0 9h5v8h-31v-8a6 6 0 1 1 0 -10z" fill="#55a88d" stroke="#3f8069" stroke-width="2" stroke-linejoin="round"/><path d="M2727 2028h6M2746 2028h8" fill="none" stroke="#8fd0ba" stroke-width="2" /><text x="2776.0" y="2045.0" font-size="28" fill="#333" font-family="'Liberation Sans',sans-serif" textLength="39.0" lengthAdjust="spacingAndGlyphs" >A&amp;I</text><text x="2380.5" y="2142.0" font-size="29" fill="#222" font-family="'Liberation Sans',sans-serif" textLength="201.0" lengthAdjust="spacingAndGlyphs" >Optimal solution</text><line x1="2375.0" y1="2156.0" x2="2890.0" y2="2156.0" stroke="#d0d0d0" stroke-width="2" /><rect x="2375.0" y="2168.0" width="163.5" height="59.5" fill="#fff" stroke="#b8b8b8" stroke-width="2.5" rx="9" /><text x="2421.0" y="2207.0" font-size="25" fill="#333" font-family="'Liberation Sans',sans-serif" textLength="36.0" lengthAdjust="spacingAndGlyphs" >IAE</text><path d="M2506.0 2190.5h18l-9.0 13z" fill="#111" /><text x="2580.0" y="2207.0" font-size="29" fill="#333" font-family="'Liberation Sans',sans-serif" textLength="69.0" lengthAdjust="spacingAndGlyphs" >Value:</text><rect x="2675.0" y="2168.0" width="215.0" height="59.5" fill="#fff" stroke="#c2c2c2" stroke-width="2" /><text x="2782.5" y="2206.8" font-size="25" fill="#333" font-family="'Liberation Sans',sans-serif" text-anchor="middle" textLength="153.0" lengthAdjust="spacingAndGlyphs" >6.064315e+00</text><text x="2580.0" y="2282.0" font-size="29" fill="#222" font-family="'Liberation Sans',sans-serif" text-anchor="middle" textLength="18.2" lengthAdjust="spacingAndGlyphs" >ki</text><text x="2787.0" y="2282.0" font-size="29" fill="#222" font-family="'Liberation Sans',sans-serif" text-anchor="middle" textLength="26.6" lengthAdjust="spacingAndGlyphs" >kp</text><circle cx="2425.8" cy="2341.7" r="14" fill="#2d3040" /><rect x="2482.0" y="2305.0" width="198.0" height="73.0" fill="#fff" stroke="#c2c2c2" stroke-width="2" /><text x="2581.0" y="2350.5" font-size="25" fill="#333" font-family="'Liberation Sans',sans-serif" text-anchor="middle" textLength="87.0" lengthAdjust="spacingAndGlyphs" >0.06502</text><rect x="2688.0" y="2305.0" width="198.0" height="73.0" fill="#fff" stroke="#c2c2c2" stroke-width="2" /><text x="2787.0" y="2350.5" font-size="25" fill="#333" font-family="'Liberation Sans',sans-serif" text-anchor="middle" textLength="59.0" lengthAdjust="spacingAndGlyphs" >0.778</text><text x="2380.5" y="2453.0" font-size="29" fill="#222" font-family="'Liberation Sans',sans-serif" textLength="97.0" lengthAdjust="spacingAndGlyphs" >Regions</text><line x1="2375.0" y1="2468.5" x2="2890.0" y2="2468.5" stroke="#d0d0d0" stroke-width="2" /><text x="2412.0" y="2522.0" font-size="29" fill="#222" font-family="'Liberation Sans',sans-serif" textLength="190.0" lengthAdjust="spacingAndGlyphs" >Number of areas</text><rect x="2640.5" y="2488.0" width="229.5" height="50.0" fill="#fff" stroke="#c2c2c2" stroke-width="2" /><text transform="translate(2755.2 2522.0) scale(0.870 1)" font-size="25" fill="#333" font-family="'Liberation Sans',sans-serif" text-anchor="middle" >1</text><text x="2455.0" y="2595.0" font-size="29" fill="#222" font-family="'Liberation Sans',sans-serif" textLength="104.0" lengthAdjust="spacingAndGlyphs" >Focus on</text><rect x="2640.5" y="2561.0" width="229.5" height="50.0" fill="#fff" stroke="#b0b0b0" stroke-width="2.5" rx="9" /><text x="2651.0" y="2595.0" font-size="25" fill="#333" font-family="'Liberation Sans',sans-serif" textLength="46.0" lengthAdjust="spacingAndGlyphs" >Int 1</text><path d="M2835.0 2579.0h18l-9.0 13z" fill="#111" /><text x="2380.5" y="2682.0" font-size="29" fill="#222" font-family="'Liberation Sans',sans-serif" textLength="284.0" lengthAdjust="spacingAndGlyphs" >Manual-focused values</text><line x1="2375.0" y1="2696.5" x2="2890.0" y2="2696.5" stroke="#d0d0d0" stroke-width="2" /><text x="2576.0" y="2739.0" font-size="29" fill="#222" font-family="'Liberation Sans',sans-serif" text-anchor="middle" textLength="18.2" lengthAdjust="spacingAndGlyphs" >ki</text><text x="2792.5" y="2739.0" font-size="29" fill="#222" font-family="'Liberation Sans',sans-serif" text-anchor="middle" textLength="26.6" lengthAdjust="spacingAndGlyphs" >kp</text><rect x="2395.0" y="2759.0" width="63.0" height="63.0" fill="#fff" stroke="#b0b0b0" stroke-width="2.5" rx="10" /><path d="M2426.5 2767.5L2449.5 2790.5L2426.5 2813.5L2403.5 2790.5z" fill="#4ea58b" stroke="#2f6f5c" stroke-width="2.5" stroke-linejoin="round"/><path d="M2426.5 2774.5L2442.5 2790.5L2426.5 2806.5L2410.5 2790.5z" fill="#6fbfa5" /><path d="M2426.5 2782.5v13m-4 -4l4 5l4 -5" fill="none" stroke="#7a5a3a" stroke-width="2.5" /><rect x="2478.0" y="2760.0" width="196.0" height="61.0" fill="#fcfcf8" stroke="#dcdcd8" stroke-width="2" /><text transform="translate(2576.0 2799.1) scale(0.870 1)" font-size="24" fill="#b8b8b8" font-family="'Liberation Sans',sans-serif" text-anchor="middle" >0</text><rect x="2694.0" y="2760.0" width="195.5" height="61.0" fill="#fcfcf8" stroke="#dcdcd8" stroke-width="2" /><text transform="translate(2791.8 2799.1) scale(0.870 1)" font-size="24" fill="#b8b8b8" font-family="'Liberation Sans',sans-serif" text-anchor="middle" >0</text><text x="2486.0" y="2894.0" font-size="29" fill="#222" font-family="'Liberation Sans',sans-serif" textLength="47.0" lengthAdjust="spacingAndGlyphs" >Hinf</text><rect x="2563.0" y="2853.5" width="325.5" height="61.5" fill="#fff" stroke="#dadada" stroke-width="2.5" rx="9" /><path d="M2856.0 2877.0h16l-8.0 12z" fill="#aaa" /><rect x="965.0" y="3010.0" width="388.5" height="80.0" fill="#fff" stroke="#bdbdbd" stroke-width="2.5" rx="10" /><text x="1159.5" y="3063.0" font-size="37" fill="#2e3a5c" font-family="'Liberation Sans',sans-serif" text-anchor="middle" font-weight="bold" textLength="203.0" lengthAdjust="spacingAndGlyphs" >CALCULATE</text><rect x="1396.0" y="3018.5" width="230.5" height="63.0" fill="#fff" stroke="#bdbdbd" stroke-width="2.5" rx="9" /><text x="1487.0" y="3060.0" font-size="32" fill="#333" font-family="'Liberation Sans',sans-serif" textLength="107.0" lengthAdjust="spacingAndGlyphs" >Settings</text><path d="M1472.4 3035.6L1472.4 3038.4L1469.6 3039.4L1468.8 3041.4L1470.0 3044.1L1468.1 3046.0L1465.4 3044.8L1463.4 3045.6L1462.4 3048.4L1459.6 3048.4L1458.6 3045.6L1456.6 3044.8L1453.9 3046.0L1452.0 3044.1L1453.2 3041.4L1452.4 3039.4L1449.6 3038.4L1449.6 3035.6L1452.4 3034.6L1453.2 3032.6L1452.0 3029.9L1453.9 3028.0L1456.6 3029.2L1458.6 3028.4L1459.6 3025.6L1462.4 3025.6L1463.4 3028.4L1465.4 3029.2L1468.1 3028.0L1470.0 3029.9L1468.8 3032.6L1469.6 3034.6z" fill="#a6a6a6" stroke="#8c8c8c" stroke-width="1" /><circle cx="1461.0" cy="3037.0" r="6.325" fill="#8e8e8e" /><circle cx="1461.0" cy="3037.0" r="3.22" fill="#5c5c5c" /><path d="M1458.2 3054.5L1458.2 3058.5L1454.3 3059.4L1453.3 3062.3L1455.6 3065.5L1453.1 3068.5L1449.5 3066.8L1446.9 3068.3L1446.6 3072.3L1442.7 3073.0L1441.1 3069.4L1438.1 3068.8L1435.3 3071.7L1431.9 3069.7L1433.0 3065.9L1431.0 3063.5L1427.1 3064.0L1425.7 3060.2L1429.0 3058.0L1429.0 3055.0L1425.7 3052.8L1427.1 3049.0L1431.0 3049.5L1433.0 3047.1L1431.9 3043.3L1435.3 3041.3L1438.1 3044.2L1441.1 3043.6L1442.7 3040.0L1446.6 3040.7L1446.9 3044.7L1449.5 3046.2L1453.1 3044.5L1455.6 3047.5L1453.3 3050.7L1454.3 3053.6z" fill="#a6a6a6" stroke="#8c8c8c" stroke-width="1" /><circle cx="1441.8" cy="3056.5" r="9.075000000000001" fill="#8e8e8e" /><circle cx="1441.8" cy="3056.5" r="4.62" fill="#5c5c5c" /><rect x="1650.5" y="3018.5" width="230.5" height="63.0" fill="#fff" stroke="#bdbdbd" stroke-width="2.5" rx="9" /><text x="1753.0" y="3060.0" font-size="32" fill="#333" font-family="'Liberation Sans',sans-serif" textLength="81.0" lengthAdjust="spacingAndGlyphs" >Wfcns</text><circle cx="1715.5" cy="3049.0" r="21" fill="#e07a7a" stroke="#9a8a8a" stroke-width="3" /><path d="M1702 3042h27M1715.5 3038v22M1708 3062h15M1702 3042l-4 9h8zM1729 3042l-4 9h8z" fill="none" stroke="#f6dcdc" stroke-width="2" /><rect x="1903.0" y="3018.5" width="230.5" height="63.0" fill="#fff" stroke="#bdbdbd" stroke-width="2.5" rx="9" /><text x="2000.0" y="3060.0" font-size="32" fill="#333" font-family="'Liberation Sans',sans-serif" textLength="92.0" lengthAdjust="spacingAndGlyphs" >Comps</text><path d="M1944 3070L1968 3040" fill="none" stroke="#a08868" stroke-width="8" stroke-linecap="round"/><path d="M1956 3030l14 -8l16 22l-7 3l-8 -10l-7 4z" fill="#8a9ad8" stroke="#5a6390" stroke-width="1.5" /><rect x="2175.0" y="3018.5" width="232.0" height="63.0" fill="#fff" stroke="#bdbdbd" stroke-width="2.5" rx="9" /><text x="2255.0" y="3060.0" font-size="32" fill="#333" font-family="'Liberation Sans',sans-serif" textLength="130.0" lengthAdjust="spacingAndGlyphs" >Bulk Enrol</text><rect x="2196.0" y="3030.0" width="40.0" height="34.0" fill="#5f8fd0" stroke="#7a7f88" stroke-width="3" /><rect x="2200.0" y="3036.0" width="32.0" height="24.0" fill="#7ba6dc" /><rect x="2208.0" y="3040.0" width="18.0" height="10.0" fill="#5a7fb8" /><circle cx="2232.0" cy="3063.0" r="8" fill="#5db08a" stroke="#e8f0ea" stroke-width="2" /><rect x="2429.0" y="3018.5" width="229.0" height="63.0" fill="#fff" stroke="#bdbdbd" stroke-width="2.5" rx="9" /><text x="2532.5" y="3060.0" font-size="32" fill="#333" font-family="'Liberation Sans',sans-serif" textLength="81.0" lengthAdjust="spacingAndGlyphs" >Delete</text><rect x="2471.0" y="3030.0" width="41.0" height="34.0" fill="#6a98d4" stroke="#7a7f88" stroke-width="3" /><rect x="2471.0" y="3030.0" width="41.0" height="8.0" fill="#7a7f88" /><rect x="2478.0" y="3043.0" width="20.0" height="15.0" fill="#8fb2e2" stroke="#5a78a8" stroke-width="1.5" /><circle cx="2506.0" cy="3063.0" r="8.5" fill="#e05a5a" stroke="#f4e0e0" stroke-width="2" /><rect x="2681.0" y="3018.5" width="231.5" height="63.0" fill="#fff" stroke="#bdbdbd" stroke-width="2.5" rx="9" /><text x="2771.0" y="3060.0" font-size="32" fill="#333" font-family="'Liberation Sans',sans-serif" textLength="110.0" lengthAdjust="spacingAndGlyphs" >Clear All</text><path d="M2752 3032L2738 3046" fill="none" stroke="#8a6a4a" stroke-width="7" stroke-linecap="round"/><path d="M2712 3052l16 -14l14 14l-14 18z" fill="#ecd98a" stroke="#8a8468" stroke-width="2" stroke-linejoin="round"/><rect x="944.0" y="3124.5" width="695.0" height="453.5" fill="#fff" stroke="#cfcfcf" stroke-width="2.2" /><line x1="944.0" y1="3175.0" x2="1639.0" y2="3175.0" stroke="#cfcfcf" stroke-width="2.2" /><text x="1291.5" y="3161.0" font-size="34" fill="#333" font-family="'Liberation Sans',sans-serif" text-anchor="middle" textLength="129.0" lengthAdjust="spacingAndGlyphs" >Controller</text><line x1="944.0" y1="3528.0" x2="1639.0" y2="3528.0" stroke="#dedede" stroke-width="2" /><rect x="1002.5" y="3196.0" width="9.5" height="134.0" fill="#3f5fae" /><text x="1056.0" y="3238.0" font-size="29" fill="#222" font-family="'Liberation Sans',sans-serif" textLength="57.0" lengthAdjust="spacingAndGlyphs" >Type</text><text x="1284.0" y="3238.0" font-size="29" fill="#222" font-family="'Liberation Sans',sans-serif" textLength="191.0" lengthAdjust="spacingAndGlyphs" >Parameter Type</text><rect x="1034.5" y="3259.0" width="206.5" height="59.5" fill="#fff" stroke="#b0b0b0" stroke-width="2.5" rx="9" /><text x="1063.0" y="3298.0" font-size="28" fill="#222" font-family="'Liberation Sans',sans-serif" textLength="24.0" lengthAdjust="spacingAndGlyphs" >PI</text><path d="M1206.0 3280.0h20l-10.0 14z" fill="#111" /><rect x="1262.0" y="3259.0" width="227.5" height="59.5" fill="#fff" stroke="#b0b0b0" stroke-width="2.5" rx="9" /><text x="1292.0" y="3298.0" font-size="28" fill="#222" font-family="'Liberation Sans',sans-serif" textLength="87.0" lengthAdjust="spacingAndGlyphs" >Parallel</text><path d="M1455.0 3280.0h20l-10.0 14z" fill="#111" /><rect x="1521.0" y="3266.0" width="49.0" height="39.0" fill="#c9d4f0" stroke="#7a7f90" stroke-width="3" /><rect x="1521.0" y="3266.0" width="49.0" height="7.0" fill="#6f7fb8" /><path d="M1528 3281h8M1540 3281h22M1528 3289h8M1540 3289h22M1528 3297h8M1540 3297h14" fill="none" stroke="#4a5a9a" stroke-width="3" /><ellipse cx="1564" cy="3303" rx="13" ry="8" fill="#e8e8ee" stroke="#7a7a88" stroke-width="2"/><circle cx="1564.0" cy="3303.0" r="4" fill="#5a6a9a" /><text x="994.0" y="3384.0" font-size="29" fill="#222" font-family="'Liberation Sans',sans-serif" textLength="246.0" lengthAdjust="spacingAndGlyphs" >Degrees of Freedom</text><line x1="987.5" y1="3397.5" x2="1577.5" y2="3397.5" stroke="#d8d8d8" stroke-width="2.5" /><text x="1029.0" y="3440.0" font-size="27" fill="#222" font-family="'Liberation Sans',sans-serif" textLength="127.0" lengthAdjust="spacingAndGlyphs" >Realization</text><text transform="translate(1325.0 3440.0) scale(0.870 1)" font-size="27" fill="#222" font-family="'Liberation Sans',sans-serif" text-anchor="middle" >b</text><rect x="1009.0" y="3452.5" width="248.0" height="59.5" fill="#fff" stroke="#b0b0b0" stroke-width="2.5" rx="9" /><text x="1039.0" y="3491.5" font-size="28" fill="#222" font-family="'Liberation Sans',sans-serif" textLength="58.0" lengthAdjust="spacingAndGlyphs" >1DoF</text><path d="M1222.0 3473.0h20l-10.0 14z" fill="#111" /><rect x="1300.0" y="3452.5" width="160.0" height="59.5" fill="#fcfcfa" stroke="#e4e4e0" stroke-width="2" rx="6" /><text x="1358.0" y="3491.0" font-size="26" fill="#b8b8b8" font-family="'Liberation Sans',sans-serif" text-anchor="middle" textLength="31.4" lengthAdjust="spacingAndGlyphs" >0.7</text><path d="M1433 3470l6 -6l6 6z" fill="#999" /><path d="M1433 3491h12l-6 6z" fill="#999" /><rect x="1599.5" y="3176.5" width="38.0" height="350.5" fill="#f1f1f1" /><rect x="1603.0" y="3210.0" width="27.0" height="144.5" fill="#b9b9b9" /><path d="M1610 3197l6.5 -7l6.5 7z" fill="#a0a0a0" /><path d="M1609 3502h15l-7.5 8z" fill="#333" /><rect x="1663.0" y="3125.0" width="1270.0" height="453.0" fill="#fff" stroke="#cfcfcf" stroke-width="2.2" /><text x="2298.0" y="3161.0" font-size="34" fill="#333" font-family="'Liberation Sans',sans-serif" text-anchor="middle" textLength="345.0" lengthAdjust="spacingAndGlyphs" >Hinf Design Specifications</text><rect x="1663.0" y="3175.5" width="1270.0" height="45.5" fill="#f4f4f4" /><rect x="2741.0" y="3175.5" width="192.0" height="45.5" fill="#cfcfcf" /><rect x="1663.0" y="3221.0" width="84.5" height="357.0" fill="#f4f4f4" /><rect x="1663.0" y="3221.0" width="84.5" height="52.5" fill="#c9c9c9" /><rect x="1747.5" y="3273.5" width="1185.5" height="51.5" fill="#d5e3ec" /><rect x="1747.5" y="3377.0" width="1185.5" height="51.7" fill="#d5e3ec" /><rect x="1747.5" y="3480.0" width="1185.5" height="52.5" fill="#d5e3ec" /><rect x="2741.0" y="3221.0" width="192.0" height="52.5" fill="#d9d9d9" /><path d="M1747.5 3175.5V3532.5M1894 3175.5V3532.5M2110 3175.5V3532.5M2331.5 3175.5V3532.5M2523 3175.5V3532.5M2741 3175.5V3532.5M1663 3221H2933M1663 3273.5H2933M1663 3325H2933M1663 3377H2933M1663 3428.7H2933M1663 3480H2933M1663 3532.5H2933" fill="none" stroke="#cdcdcd" stroke-width="2" /><text x="1755.0" y="3203.0" font-size="16.5" fill="#9a9a9a" font-family="'Liberation Sans',sans-serif" textLength="52.0" lengthAdjust="spacingAndGlyphs" >En/Dis</text><text x="1902.0" y="3203.0" font-size="16.5" fill="#9a9a9a" font-family="'Liberation Sans',sans-serif" textLength="179.0" lengthAdjust="spacingAndGlyphs" >Weighting functions</text><text x="2119.0" y="3203.0" font-size="16.5" fill="#9a9a9a" font-family="'Liberation Sans',sans-serif" textLength="184.0" lengthAdjust="spacingAndGlyphs" >Serial Compensators</text><text x="2341.0" y="3203.0" font-size="16.5" fill="#9a9a9a" font-family="'Liberation Sans',sans-serif" textLength="74.0" lengthAdjust="spacingAndGlyphs" >Systems</text><text x="2532.5" y="3203.0" font-size="16.5" fill="#9a9a9a" font-family="'Liberation Sans',sans-serif" textLength="180.0" lengthAdjust="spacingAndGlyphs" >Sensitivity functions</text><text x="2749.5" y="3203.0" font-size="16.5" fill="#777" font-family="'Liberation Sans',sans-serif" textLength="132.0" lengthAdjust="spacingAndGlyphs" >Gamma Values</text><text x="1705.0" y="3252.2" font-size="13" fill="#888" font-family="'Liberation Sans',sans-serif" text-anchor="middle" >1</text><rect x="1807.0" y="3234.8" width="28.0" height="28.0" fill="#fff" stroke="#ababab" stroke-width="2" rx="2" /><path d="M1813.0 3248.8l6 7l11 -15" fill="none" stroke="#222" stroke-width="3.2" stroke-linecap="butt" stroke-linejoin="miter"/><text x="2002.0" y="3256.2" font-size="27" fill="#222" font-family="'Liberation Sans',sans-serif" text-anchor="middle" textLength="44.0" lengthAdjust="spacingAndGlyphs" >w/o</text><text x="2221.0" y="3256.2" font-size="27" fill="#222" font-family="'Liberation Sans',sans-serif" text-anchor="middle" textLength="44.0" lengthAdjust="spacingAndGlyphs" >w/o</text><text x="2427.0" y="3256.2" font-size="28" fill="#222" font-family="'Liberation Sans',sans-serif" text-anchor="middle" textLength="75.0" lengthAdjust="spacingAndGlyphs" >PHES1</text><text transform="translate(2632.0 3256.2) scale(0.870 1)" font-size="28" fill="#222" font-family="'Liberation Sans',sans-serif" text-anchor="middle" >S</text><text transform="translate(2836.0 3256.2) scale(0.870 1)" font-size="28" fill="#222" font-family="'Liberation Sans',sans-serif" text-anchor="middle" >2</text><text x="1705.0" y="3304.2" font-size="13" fill="#888" font-family="'Liberation Sans',sans-serif" text-anchor="middle" >2</text><rect x="1807.0" y="3286.8" width="28.0" height="28.0" fill="#fff" stroke="#ababab" stroke-width="2" rx="2" /><path d="M1813.0 3300.8l6 7l11 -15" fill="none" stroke="#222" stroke-width="3.2" stroke-linecap="butt" stroke-linejoin="miter"/><text x="2002.0" y="3308.2" font-size="27" fill="#222" font-family="'Liberation Sans',sans-serif" text-anchor="middle" textLength="44.0" lengthAdjust="spacingAndGlyphs" >w/o</text><text x="2221.0" y="3308.2" font-size="27" fill="#222" font-family="'Liberation Sans',sans-serif" text-anchor="middle" textLength="44.0" lengthAdjust="spacingAndGlyphs" >w/o</text><text x="2427.0" y="3308.2" font-size="28" fill="#222" font-family="'Liberation Sans',sans-serif" text-anchor="middle" textLength="75.0" lengthAdjust="spacingAndGlyphs" >PHES2</text><text transform="translate(2632.0 3308.2) scale(0.870 1)" font-size="28" fill="#222" font-family="'Liberation Sans',sans-serif" text-anchor="middle" >S</text><text transform="translate(2836.0 3308.2) scale(0.870 1)" font-size="28" fill="#222" font-family="'Liberation Sans',sans-serif" text-anchor="middle" >2</text><text x="1705.0" y="3356.0" font-size="13" fill="#888" font-family="'Liberation Sans',sans-serif" text-anchor="middle" >3</text><rect x="1807.0" y="3338.5" width="28.0" height="28.0" fill="#fff" stroke="#ababab" stroke-width="2" rx="2" /><path d="M1813.0 3352.5l6 7l11 -15" fill="none" stroke="#222" stroke-width="3.2" stroke-linecap="butt" stroke-linejoin="miter"/><text x="2002.0" y="3360.0" font-size="27" fill="#222" font-family="'Liberation Sans',sans-serif" text-anchor="middle" textLength="44.0" lengthAdjust="spacingAndGlyphs" >w/o</text><text x="2221.0" y="3360.0" font-size="27" fill="#222" font-family="'Liberation Sans',sans-serif" text-anchor="middle" textLength="44.0" lengthAdjust="spacingAndGlyphs" >w/o</text><text x="2427.0" y="3360.0" font-size="28" fill="#222" font-family="'Liberation Sans',sans-serif" text-anchor="middle" textLength="75.0" lengthAdjust="spacingAndGlyphs" >PHES3</text><text transform="translate(2632.0 3360.0) scale(0.870 1)" font-size="28" fill="#222" font-family="'Liberation Sans',sans-serif" text-anchor="middle" >S</text><text x="2836.0" y="3360.0" font-size="28" fill="#222" font-family="'Liberation Sans',sans-serif" text-anchor="middle" textLength="77.0" lengthAdjust="spacingAndGlyphs" >2.0000</text><text x="1705.0" y="3407.8" font-size="13" fill="#888" font-family="'Liberation Sans',sans-serif" text-anchor="middle" >4</text><rect x="1807.0" y="3390.3" width="28.0" height="28.0" fill="#fff" stroke="#ababab" stroke-width="2" rx="2" /><path d="M1813.0 3404.3l6 7l11 -15" fill="none" stroke="#222" stroke-width="3.2" stroke-linecap="butt" stroke-linejoin="miter"/><text x="2002.0" y="3411.8" font-size="27" fill="#222" font-family="'Liberation Sans',sans-serif" text-anchor="middle" textLength="44.0" lengthAdjust="spacingAndGlyphs" >w/o</text><text x="2221.0" y="3411.8" font-size="27" fill="#222" font-family="'Liberation Sans',sans-serif" text-anchor="middle" textLength="44.0" lengthAdjust="spacingAndGlyphs" >w/o</text><text x="2427.0" y="3411.8" font-size="28" fill="#222" font-family="'Liberation Sans',sans-serif" text-anchor="middle" textLength="75.0" lengthAdjust="spacingAndGlyphs" >PHES1</text><text transform="translate(2632.0 3411.8) scale(0.870 1)" font-size="28" fill="#222" font-family="'Liberation Sans',sans-serif" text-anchor="middle" >T</text><text x="2836.0" y="3411.8" font-size="28" fill="#222" font-family="'Liberation Sans',sans-serif" text-anchor="middle" textLength="77.0" lengthAdjust="spacingAndGlyphs" >1.6000</text><text x="1705.0" y="3459.3" font-size="13" fill="#888" font-family="'Liberation Sans',sans-serif" text-anchor="middle" >5</text><rect x="1807.0" y="3441.8" width="28.0" height="28.0" fill="#fff" stroke="#ababab" stroke-width="2" rx="2" /><path d="M1813.0 3455.8l6 7l11 -15" fill="none" stroke="#222" stroke-width="3.2" stroke-linecap="butt" stroke-linejoin="miter"/><text x="2002.0" y="3463.3" font-size="27" fill="#222" font-family="'Liberation Sans',sans-serif" text-anchor="middle" textLength="44.0" lengthAdjust="spacingAndGlyphs" >w/o</text><text x="2221.0" y="3463.3" font-size="27" fill="#222" font-family="'Liberation Sans',sans-serif" text-anchor="middle" textLength="44.0" lengthAdjust="spacingAndGlyphs" >w/o</text><text x="2427.0" y="3463.3" font-size="28" fill="#222" font-family="'Liberation Sans',sans-serif" text-anchor="middle" textLength="75.0" lengthAdjust="spacingAndGlyphs" >PHES2</text><text transform="translate(2632.0 3463.3) scale(0.870 1)" font-size="28" fill="#222" font-family="'Liberation Sans',sans-serif" text-anchor="middle" >T</text><text x="2836.0" y="3463.3" font-size="28" fill="#222" font-family="'Liberation Sans',sans-serif" text-anchor="middle" textLength="77.0" lengthAdjust="spacingAndGlyphs" >1.6000</text><text x="1705.0" y="3511.2" font-size="13" fill="#888" font-family="'Liberation Sans',sans-serif" text-anchor="middle" >6</text><rect x="1807.0" y="3493.8" width="28.0" height="28.0" fill="#fff" stroke="#ababab" stroke-width="2" rx="2" /><path d="M1813.0 3507.8l6 7l11 -15" fill="none" stroke="#222" stroke-width="3.2" stroke-linecap="butt" stroke-linejoin="miter"/><text x="2002.0" y="3515.2" font-size="27" fill="#222" font-family="'Liberation Sans',sans-serif" text-anchor="middle" textLength="44.0" lengthAdjust="spacingAndGlyphs" >w/o</text><text x="2221.0" y="3515.2" font-size="27" fill="#222" font-family="'Liberation Sans',sans-serif" text-anchor="middle" textLength="44.0" lengthAdjust="spacingAndGlyphs" >w/o</text><text x="2427.0" y="3515.2" font-size="28" fill="#222" font-family="'Liberation Sans',sans-serif" text-anchor="middle" textLength="75.0" lengthAdjust="spacingAndGlyphs" >PHES3</text><text transform="translate(2632.0 3515.2) scale(0.870 1)" font-size="28" fill="#222" font-family="'Liberation Sans',sans-serif" text-anchor="middle" >T</text><text x="2836.0" y="3515.2" font-size="28" fill="#222" font-family="'Liberation Sans',sans-serif" text-anchor="middle" textLength="77.0" lengthAdjust="spacingAndGlyphs" >1.6000</text><rect x="1663.0" y="3175.5" width="1270.0" height="402.5" fill="none" stroke="#adadad" stroke-width="2.5" /><line x1="381.0" y1="3601.5" x2="2957.0" y2="3601.5" stroke="#e2e2e2" stroke-width="4" /><text x="942.0" y="3640.0" font-size="23" fill="#777" font-family="'Liberation Sans',sans-serif" font-style="italic" textLength="78.0" lengthAdjust="spacingAndGlyphs" >Session:</text><text x="1050.0" y="3640.0" font-size="23" fill="#555" font-family="'Liberation Sans',sans-serif" font-style="italic" textLength="120.0" lengthAdjust="spacingAndGlyphs" >PC23iPHEV1</text><line x1="2376.0" y1="3611.0" x2="2376.0" y2="3651.0" stroke="#9a9a9a" stroke-width="3.5" /><line x1="2611.0" y1="3611.0" x2="2611.0" y2="3651.0" stroke="#9a9a9a" stroke-width="3.5" /><line x1="2686.0" y1="3611.0" x2="2686.0" y2="3651.0" stroke="#9a9a9a" stroke-width="3.5" /><line x1="2761.0" y1="3611.0" x2="2761.0" y2="3651.0" stroke="#9a9a9a" stroke-width="3.5" /><path d="M2396 3647v-26l8 -8h20v34z" fill="#d9dcc0" stroke="#9a9c88" stroke-width="2" /><rect x="2445.5" y="3615.0" width="32.0" height="32.0" fill="#5a5d6a" stroke="#444" stroke-width="1.5" rx="3" /><rect x="2452.5" y="3615.0" width="18.0" height="10.0" fill="#5a78c8" /><rect x="2451.5" y="3633.0" width="20.0" height="12.0" fill="#d8d8d8" /><path d="M2497.5 3647v-30h14l4 5h22v25z" fill="#f0d88a" stroke="#9a8a58" stroke-width="2" /><path d="M2497.5 3647v-20h40v20z" fill="#f4e3a0" stroke="#9a8a58" stroke-width="2" /><path d="M2553.5 3643v-28h14l4 5h20v23z" fill="#e8d48a" stroke="#8a8060" stroke-width="2" /><path d="M2553.5 3643v-18h38v18z" fill="#efdc98" stroke="#8a8060" stroke-width="2" /><circle cx="2586.5" cy="3641.0" r="7" fill="#5a5fae" stroke="#dde" stroke-width="1.5" /><rect x="2628.0" y="3611.0" width="28.0" height="26.0" fill="#b85a78" stroke="#888" stroke-width="2" /><rect x="2640.0" y="3625.0" width="30.0" height="26.0" fill="#7a9ac8" stroke="#778" stroke-width="2" /><rect x="2640.0" y="3625.0" width="30.0" height="7.0" fill="#6a7a98" /><path d="M2705 3619l12 -6l12 6l-12 6z M2705 3619v12l12 6v-12z" fill="#4a9a78" stroke="#3a6a5a" stroke-width="1.5" /><path d="M2719 3629l14 -7l14 7v16l-14 7l-14 -7z" fill="#e8c860" stroke="#8a7a48" stroke-width="1.5" /><path d="M2733 3636l14 -7v16l-14 7z" fill="#5a8ac8" stroke="#4a6a98" stroke-width="1.5" /><path d="M2779 3649v-14l8 -14h24l8 14v14z" fill="#b8b4a8" stroke="#777" stroke-width="2" /><rect x="2789.0" y="3613.0" width="22.0" height="22.0" fill="#c8e0f0" stroke="#8aa" stroke-width="1.5" /><path d="M2800 3632v-14m-4 5l4 -5l4 5" fill="none" stroke="#456" stroke-width="2.5" /><rect x="2839.0" y="3611.0" width="30.0" height="40.0" fill="#c8a890" stroke="#8a6a5a" stroke-width="2" /><rect x="2839.0" y="3611.0" width="7.0" height="40.0" fill="#9a5a4a" /><circle cx="2910.0" cy="3631.0" r="19" fill="#4a4a9a" stroke="#b8b8c8" stroke-width="3" /><text x="2910.0" y="3642.0" font-size="30" fill="#fff" font-family="'Liberation Sans',sans-serif" text-anchor="middle" font-weight="bold" >?</text><path d="M382 3664V1791a10 10 0 0 1 10 -10H2946a10 10 0 0 1 10 10V3664Z" fill="none" stroke="#9a9a9a" stroke-width="2" /></svg></div><svg style="position:absolute;left:0;top:0" width="3242" height="3926" viewBox="0 0 3242 3926"><rect x="279" y="1997" width="53" height="216" fill="url(#gArrV)"/><path d="M332 2151H401V2121.5L482 2182L401 2244V2213H332Z" fill="url(#gArrH)"/></svg></body></html>
